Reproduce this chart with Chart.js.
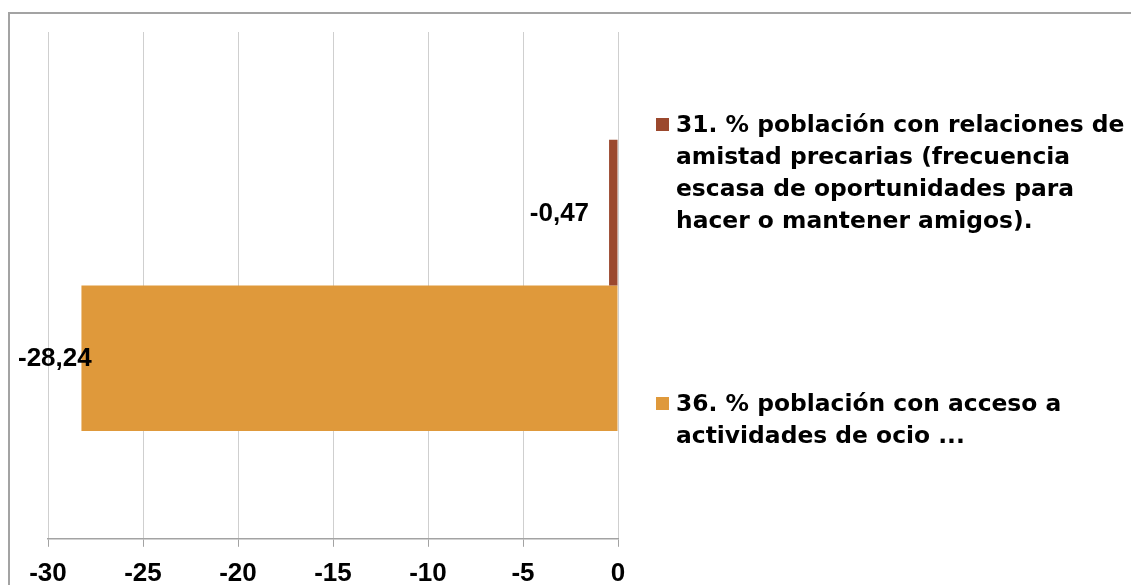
<!DOCTYPE html>
<html>
<head>
<meta charset="utf-8">
<script src="https://cdn.jsdelivr.net/npm/chart.js@4/dist/chart.umd.min.js"></script>
<style>
  html, body { margin: 0; padding: 0; background: #fff; overflow: hidden; }
  #frame {
    position: absolute; left: 8px; top: 12px; width: 1300px; height: 800px;
    border-top: 2px solid #a3a3a3; border-left: 2px solid #a3a3a3;
  }
  #wrap { position: absolute; left: 0; top: 0; width: 1131px; height: 620px; }
</style>
</head>
<body>
<div id="frame"></div>
<div id="wrap"><canvas id="chart"></canvas></div>
<script>
// --- datos ---
const CATEGORIES = [''];
const SERIES_LABELS = [
  '31. % población con relaciones de amistad precarias (frecuencia escasa de oportunidades para hacer o mantener amigos).',
  '36. % población con acceso a actividades de ocio ...',
];
const LEGEND_LINES = [
  ['31. % población con relaciones de', 'amistad precarias (frecuencia', 'escasa de oportunidades para', 'hacer o mantener amigos).'],
  ['36. % población con acceso a', 'actividades de ocio ...'],
];
const VALUES_31 = [-0.47];
const VALUES_36 = [-28.24];
const SERIES_COLORS = ['#9b482d', '#df993b'];
const X_TICKS = [-30, -25, -20, -15, -10, -5, 0];

const LEGEND_FONT = 'bold 23.4px "DejaVu Sans"';
const LABEL_FONT  = 'bold 26px "Liberation Sans"';

// etiquetas de valor (estilo Excel: a la izquierda del extremo de la barra)
const valueLabels = {
  id: 'valueLabels',
  afterDatasetsDraw(chart) {
    const ctx = chart.ctx;
    ctx.save();
    ctx.font = LABEL_FONT;
    ctx.fillStyle = '#000';
    ctx.textBaseline = 'middle';
    ctx.textAlign = 'left';
    chart.data.datasets.forEach((ds, i) => {
      chart.getDatasetMeta(i).data.forEach((bar, j) => {
        const txt = ds.data[j].toFixed(2).replace('.', ',');
        const w = ctx.measureText(txt).width;
        const left = Math.max(18, bar.x - 20 - w);
        ctx.fillText(txt, left, bar.y + 1);
      });
    });
    ctx.restore();
  }
};

// leyenda lateral con varias líneas por serie
const sideLegend = {
  id: 'sideLegend',
  afterDraw(chart) {
    const ctx = chart.ctx;
    const x0 = chart.chartArea.right + 38;
    const tops = [126, 405];
    ctx.save();
    ctx.font = LEGEND_FONT;
    ctx.textBaseline = 'middle';
    chart.data.datasets.forEach((ds, i) => {
      ctx.fillStyle = ds.backgroundColor;
      ctx.fillRect(x0, tops[i] - 8, 13, 13);
      ctx.fillStyle = '#000';
      LEGEND_LINES[i].forEach((line, k) => ctx.fillText(line, x0 + 20, tops[i] + k * 32));
    });
    ctx.restore();
  }
};

new Chart(document.getElementById('chart'), {
  type: 'bar',
  data: {
    labels: CATEGORIES,
    datasets: [
      { label: SERIES_LABELS[0], data: VALUES_31, backgroundColor: SERIES_COLORS[0] },
      { label: SERIES_LABELS[1], data: VALUES_36, backgroundColor: SERIES_COLORS[1] },
    ],
  },
  options: {
    indexAxis: 'y',
    responsive: true,
    maintainAspectRatio: false,
    animation: false,
    layout: { padding: { left: 48, right: 513, top: 32, bottom: 20 } },
    datasets: { bar: { categoryPercentage: 0.575, barPercentage: 1, borderWidth: 0 } },
    plugins: { legend: { display: false }, tooltip: { enabled: false } },
    scales: {
      x: {
        min: -30,
        max: 0,
        afterBuildTicks: axis => { axis.ticks = X_TICKS.map(v => ({ value: v })); },
        ticks: { color: '#000', font: { family: 'Liberation Sans', size: 26, weight: 'bold' }, padding: 11 },
        grid: { color: '#cfcfcf', lineWidth: 1, tickColor: '#a3a3a3', tickLength: 8 },
        border: { color: '#a3a3a3', width: 1.5 },
      },
      y: { display: false },
    },
  },
  plugins: [valueLabels, sideLegend],
});
</script>
</body>
</html>
